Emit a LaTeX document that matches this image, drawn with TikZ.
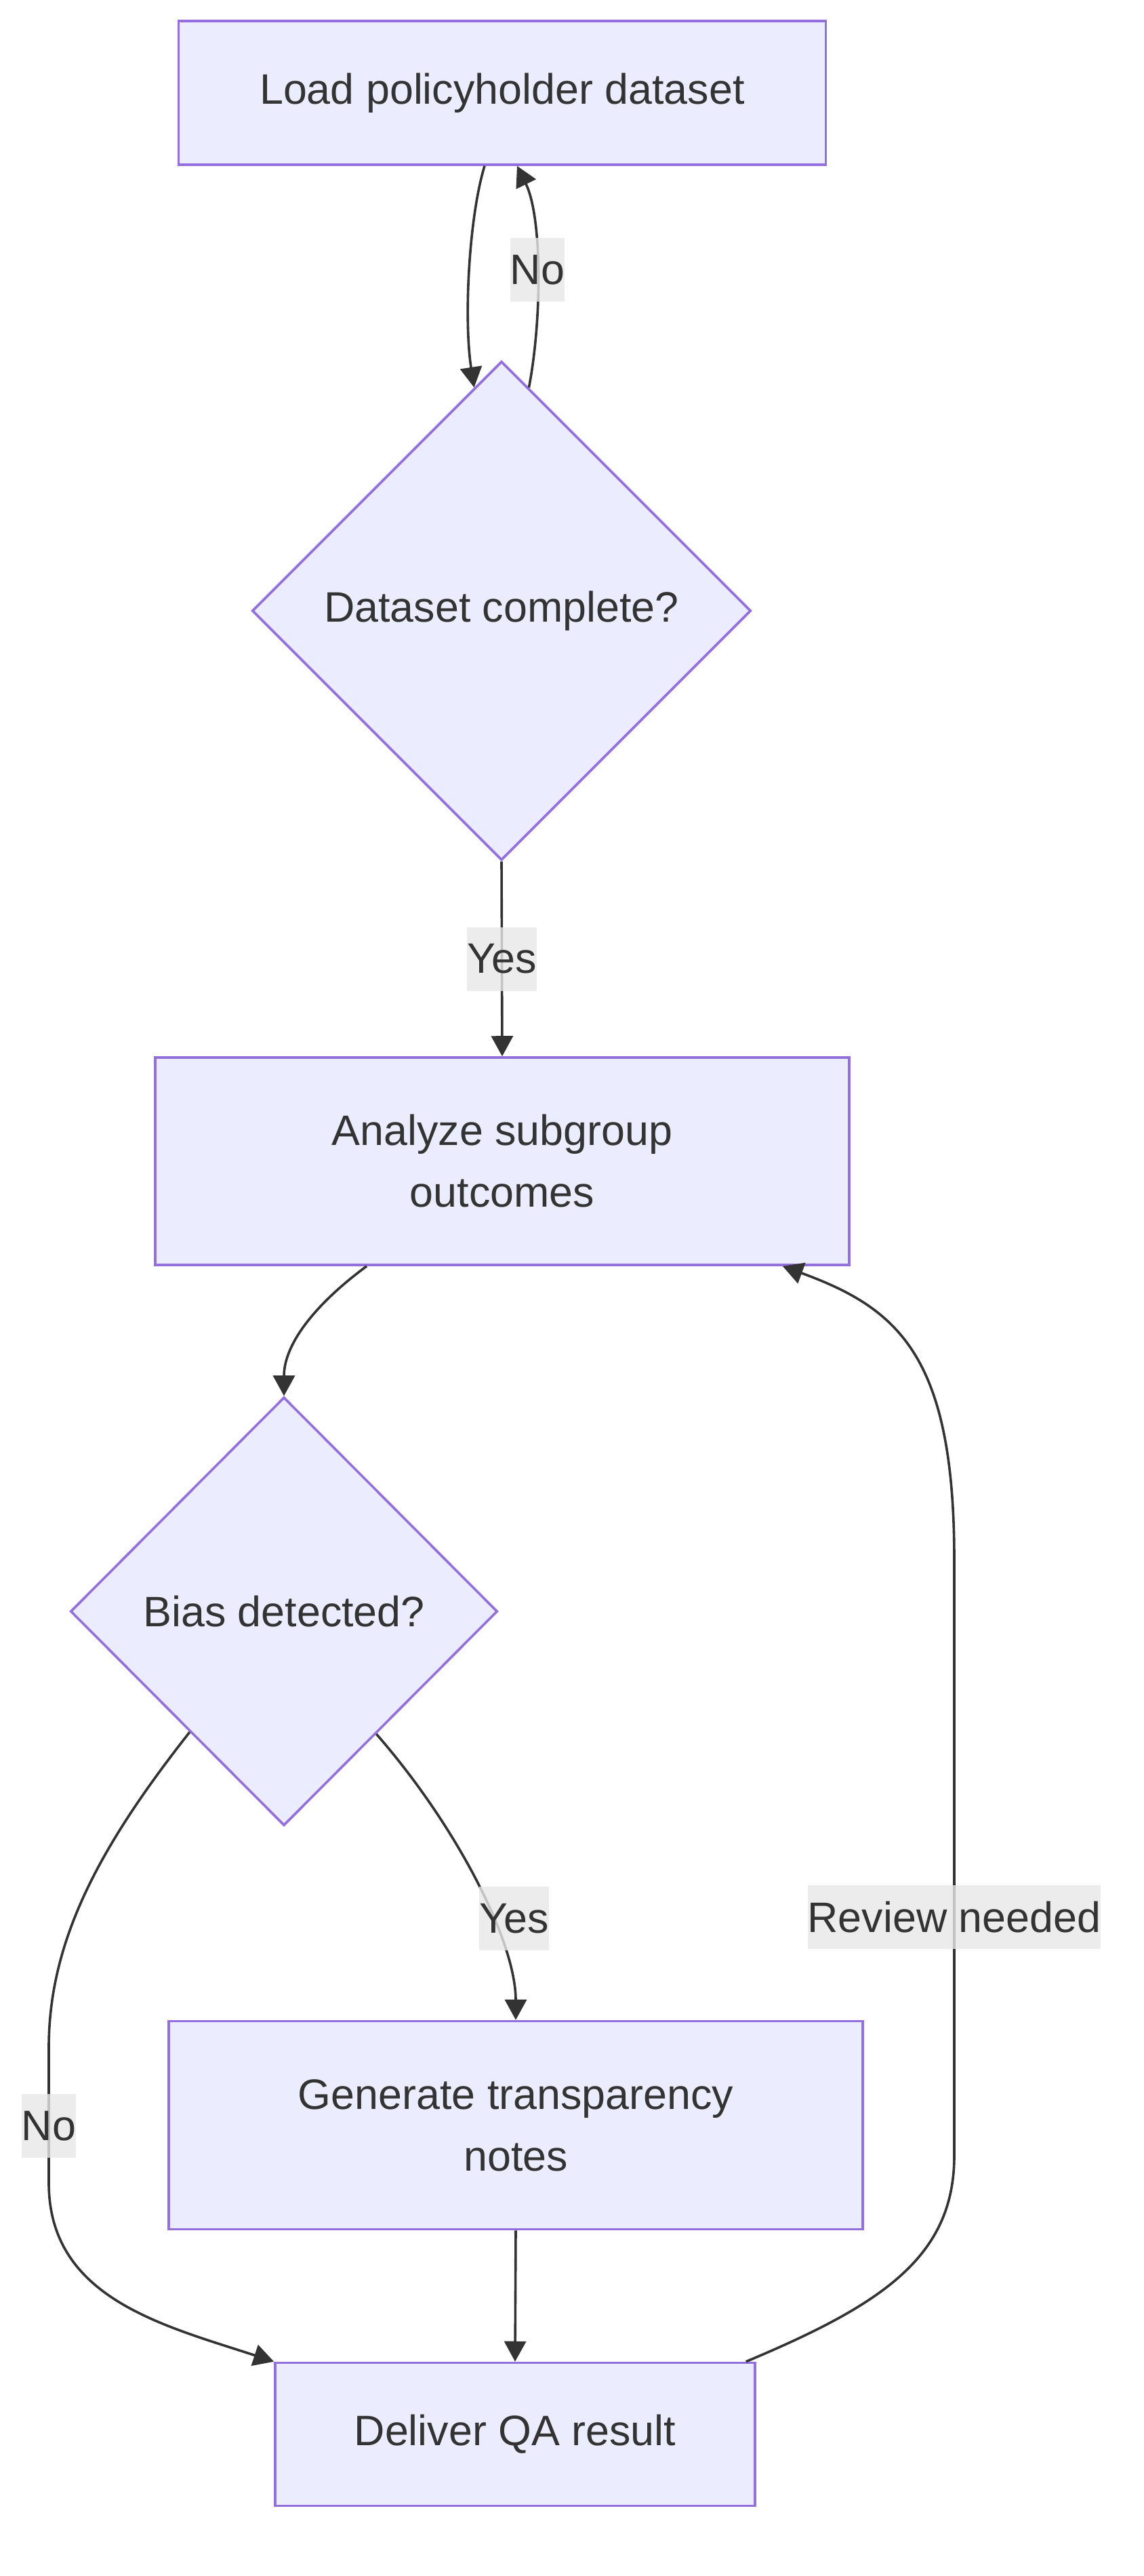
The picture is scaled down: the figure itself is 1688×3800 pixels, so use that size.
\documentclass[tikz,border=0pt]{standalone}
\usepackage{fontspec}
\setmainfont{Liberation Sans}
\usepackage{xcolor}
\usepackage{tikz}
\usetikzlibrary{shapes.geometric, arrows.meta, calc}
\definecolor{QANodeFill}{RGB}{236, 236, 255}
\definecolor{QANodeLine}{RGB}{147, 112, 219}
\definecolor{QAText}{RGB}{51, 51, 51}
\definecolor{QAEdge}{RGB}{51, 51, 51}
\definecolor{QALabel}{RGB}{232, 232, 232}

\begin{document}
\begin{tikzpicture}[x=0.25pt,y=-0.25pt,
    font=\fontsize{15.7}{22.75}\selectfont,
    procbox/.style={draw=QANodeLine, fill=QANodeFill, line width=0.9pt, text=QAText, align=center, inner sep=0pt},
    decision/.style={diamond, aspect=1, draw=QANodeLine, fill=QANodeFill, line width=0.9pt, text=QAText, inner sep=0pt},
    flow/.style={draw=QAEdge, line width=0.9pt, -{Triangle[length=7.5pt,width=8pt]}},
    lbl/.style={fill=QALabel, fill opacity=0.8, text opacity=1, text=QAText, inner xsep=0pt, inner ysep=0pt, minimum height=23.5pt}]
  \path[use as bounding box, fill=white] (0,0) rectangle (1688,3800);

  \node[procbox, minimum width=238.75pt, minimum height=53pt] (load) at (741,137) {Load policyholder dataset};
  \node[decision, minimum width=184pt, minimum height=184pt] (check) at (740,901) {Dataset complete?};
  \node[procbox, minimum width=256pt, minimum height=76.5pt] (analyze) at (741,1713) {Analyze subgroup\\outcomes};
  \node[decision, minimum width=157.5pt, minimum height=158pt] (bias) at (419,2377) {Bias detected?};
  \node[procbox, minimum width=256pt, minimum height=76.75pt] (notes) at (761,3135) {Generate transparency\\notes};
  \node[procbox, minimum width=177pt, minimum height=52.75pt] (deliver) at (760,3591) {Deliver QA result};

  \draw[flow] ($(load.south)+(-26,0)$) .. controls (692,320) and (684,470) .. (check.97);
  \draw[flow] (check.83) .. controls (800,470) and (800,320) .. ($(load.south)+(22,0)$) node[lbl, pos=0.5] {No};
  \draw[flow] (check.south) -- node[lbl] {Yes} (analyze.north);
  \draw[flow] ($(analyze.south)+(-200,0)$) .. controls (470,1920) and (419,1980) .. (bias.north);
  \draw[flow] (bias.-53) .. controls (675,2695) and (761,2865) .. (notes.north) node[lbl, pos=0.62, xshift=8pt] {Yes};
  \draw[flow] (bias.232) .. controls (150,2720) and (72,2860) .. (72,3020) -- (72,3220) node[lbl, pos=0.58] {No}
    .. controls (72,3390) and (240,3430) .. (deliver.north west);
  \draw[flow] (notes.south) -- (deliver.north);
  \draw[flow] ($(deliver.north east)+(-15,0)$) .. controls (1300,3400) and (1408,3330) .. (1408,3180)
    -- (1408,2300) node[lbl, pos=0.4] {Review needed}
    .. controls (1408,2000) and (1325,1930) .. ($(analyze.south east)+(-100,0)$);
\end{tikzpicture}
\end{document}
